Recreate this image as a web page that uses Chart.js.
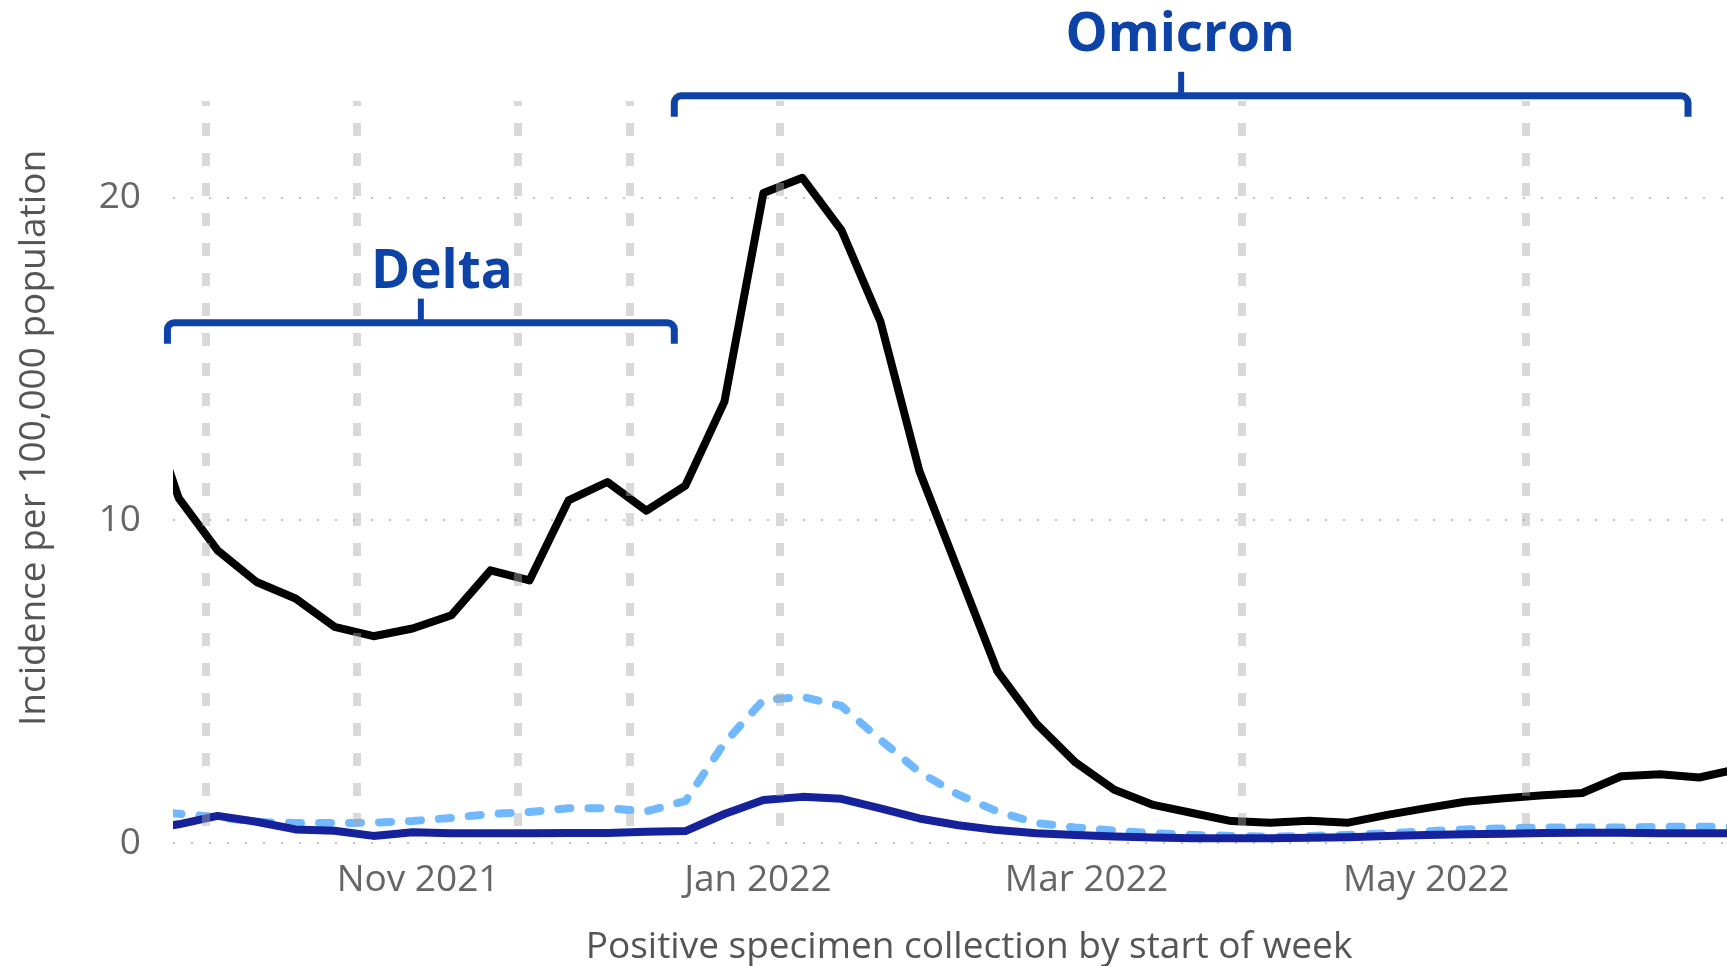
<!DOCTYPE html>
<html>
<head>
<meta charset="utf-8">
<title>Incidence per 100,000 population</title>
<script src="https://cdn.jsdelivr.net/npm/chart.js@4.4.1/dist/chart.umd.min.js"></script>
<style>
  html, body { margin: 0; padding: 0; background: #fff; }
  canvas { display: block; }
</style>
</head>
<body>
<canvas id="incChart" width="1727" height="966"></canvas>
<script>
// weekly data, week start (Sunday)
const weeks = [
    '2021-09-12', '2021-09-19', '2021-09-26', '2021-10-03', '2021-10-10', '2021-10-17',
    '2021-10-24', '2021-10-31', '2021-11-07', '2021-11-14', '2021-11-21', '2021-11-28',
    '2021-12-05', '2021-12-12', '2021-12-19', '2021-12-26', '2022-01-02', '2022-01-09',
    '2022-01-16', '2022-01-23', '2022-01-30', '2022-02-06', '2022-02-13', '2022-02-20',
    '2022-02-27', '2022-03-06', '2022-03-13', '2022-03-20', '2022-03-27', '2022-04-03',
    '2022-04-10', '2022-04-17', '2022-04-24', '2022-05-01', '2022-05-08', '2022-05-15',
    '2022-05-22', '2022-05-29', '2022-06-05', '2022-06-12', '2022-06-19', '2022-06-26'
];

const blackSeries = [
    14.3, 10.7, 9.07, 8.09, 7.58, 6.70, 6.41, 6.65, 7.06, 8.45, 8.14, 10.62,
    11.19, 10.3, 11.08, 13.68, 20.15, 20.62, 19.0, 16.17, 11.53, 8.43, 5.33, 3.7,
    2.5, 1.65, 1.18, 0.93, 0.68, 0.63, 0.69, 0.63, 0.87, 1.08, 1.28, 1.39,
    1.48, 1.55, 2.07, 2.13, 2.03, 2.3
];

const darkBlueSeries = [
    0.4, 0.58, 0.84, 0.66, 0.42, 0.38, 0.22, 0.33, 0.30, 0.30, 0.30, 0.31,
    0.31, 0.35, 0.37, 0.9, 1.33, 1.43, 1.37, 1.07, 0.76, 0.55, 0.40, 0.30,
    0.25, 0.2, 0.17, 0.15, 0.15, 0.15, 0.16, 0.18, 0.22, 0.25, 0.27, 0.29,
    0.31, 0.32, 0.32, 0.3, 0.3, 0.3
];

const lightBlueSeries = [
    1.0, 0.91, 0.8, 0.65, 0.62, 0.62, 0.63, 0.68, 0.78, 0.9, 0.96, 1.08,
    1.08, 0.98, 1.3, 3.1, 4.43, 4.53, 4.25, 3.2, 2.2, 1.5, 0.98, 0.62,
    0.48, 0.38, 0.3, 0.25, 0.22, 0.2, 0.22, 0.25, 0.3, 0.36, 0.42, 0.45,
    0.48, 0.48, 0.48, 0.5, 0.5, 0.5
];

const xTickDates = ['2021-11-01', '2022-01-01', '2022-03-01', '2022-05-01'];
const xTickLabels = ['Nov 2021', 'Jan 2022', 'Mar 2022', 'May 2022'];
const yTicks = [0, 10, 20];

// grey dashed reference lines
const markerDates = ['2021-09-24', '2021-10-21', '2021-11-19', '2021-12-09', '2022-01-05', '2022-03-29', '2022-05-19'];

// variant periods shown with brackets
const periodNames = ['Delta', 'Omicron'];
const periodStarts = ['2021-09-17', '2021-12-17'];
const periodEnds = ['2021-12-17', '2022-06-17'];

const day = s => Date.parse(s + 'T00:00:00Z') / 864e5;
const toPoints = vals => vals.map((v, i) => ({ x: day(weeks[i]), y: v }));

const X_MIN = day('2021-09-18');
const X_MAX = day('2022-06-24');
const FONT = '"Open Sans", "Noto Sans", sans-serif';
const BRACKET_BLUE = '#0d42a6';

Chart.defaults.font.family = FONT;

const annotate = {
    id: 'annotate',
    afterDraw(chart, args, opts) {
        const { ctx, scales: { x, y } } = chart;
        ctx.save();

        // brackets + labels
        periodNames.forEach((name, i) => {
            const x1 = x.getPixelForValue(day(periodStarts[i]));
            const x2 = x.getPixelForValue(day(periodEnds[i]));
            const yy = y.getPixelForValue(opts.levels[i]);
            const xm = (x1 + x2) / 2;
            const r = 7;

            ctx.strokeStyle = BRACKET_BLUE;
            ctx.lineWidth = 7;
            ctx.lineJoin = 'round';
            ctx.lineCap = 'butt';
            ctx.beginPath();
            ctx.moveTo(x1, yy + opts.drop);
            ctx.arcTo(x1, yy, x1 + r, yy, r);
            ctx.arcTo(x2, yy, x2, yy + r, r);
            ctx.lineTo(x2, yy + opts.drop);
            ctx.stroke();

            ctx.lineWidth = 6;
            ctx.beginPath();
            ctx.moveTo(xm, yy);
            ctx.lineTo(xm, yy - opts.spike);
            ctx.stroke();

            ctx.fillStyle = BRACKET_BLUE;
            ctx.font = 'bold 53px ' + FONT;
            ctx.textAlign = 'center';
            ctx.textBaseline = 'alphabetic';
            ctx.fillText(name, xm + opts.labelDx[i], yy - opts.labelGap[i]);
        });

        // axis titles
        ctx.fillStyle = '#555';
        ctx.font = '37px ' + FONT;
        ctx.textAlign = 'center';
        ctx.textBaseline = 'alphabetic';
        ctx.fillText('Positive specimen collection by start of week', 969, 958);

        ctx.translate(45, 438);
        ctx.rotate(-Math.PI / 2);
        ctx.fillText('Incidence per 100,000 population', 0, 0);
        ctx.restore();
    }
};

new Chart(document.getElementById('incChart'), {
    type: 'line',
    data: {
        datasets: [
            {
                label: 'black',
                data: toPoints(blackSeries),
                borderColor: '#000',
                borderWidth: 8
            },
            {
                label: 'dark blue',
                data: toPoints(darkBlueSeries),
                borderColor: '#15229b',
                borderWidth: 8
            },
            {
                label: 'light blue',
                data: toPoints(lightBlueSeries),
                borderColor: '#70b8ff',
                borderWidth: 8,
                borderDash: [12, 18],
                borderCapStyle: 'round'
            }
        ]
    },
    options: {
        responsive: false,
        devicePixelRatio: 1,
        animation: false,
        elements: {
            point: { radius: 0 },
            line: { tension: 0, borderJoinStyle: 'round' }
        },
        layout: { padding: { top: 101, right: 0, bottom: 0, left: 0 } },
        plugins: {
            legend: { display: false },
            tooltip: { enabled: false },
            annotate: {
                levels: [16.13, 23.16],
                drop: 21,
                spike: 24,
                labelDx: [21, -1],
                labelGap: [35, 45]
            }
        },
        scales: {
            x: {
                type: 'linear',
                min: X_MIN,
                max: X_MAX,
                afterBuildTicks: s => { s.ticks = xTickDates.map(d => ({ value: day(d) })); },
                afterFit: s => { s.height = 123; },
                grid: { display: false, drawTicks: false },
                border: { display: false },
                ticks: {
                    padding: 15,
                    maxRotation: 0,
                    autoSkip: false,
                    color: '#666',
                    font: { size: 37 },
                    callback: (v, i) => xTickLabels[i]
                }
            },
            markers: {
                type: 'linear',
                axis: 'x',
                position: 'top',
                min: X_MIN,
                max: X_MAX,
                afterBuildTicks: s => { s.ticks = markerDates.map(d => ({ value: day(d) })); },
                afterFit: s => { s.height = 0; },
                ticks: { display: false },
                grid: { color: 'rgba(170,170,170,0.45)', lineWidth: 8, drawTicks: false, z: 1 },
                border: { display: false, dash: [13, 17], dashOffset: 8 }
            },
            y: {
                min: 0,
                max: 23,
                afterBuildTicks: s => { s.ticks = yTicks.map(v => ({ value: v })); },
                afterFit: s => { s.width = 173; },
                grid: { color: '#c2c2c2', lineWidth: 2, drawTicks: false },
                border: { display: false, dash: [2, 16] },
                ticks: { padding: 32, color: '#666', font: { size: 37 } }
            }
        }
    },
    plugins: [annotate]
});
</script>
</body>
</html>
